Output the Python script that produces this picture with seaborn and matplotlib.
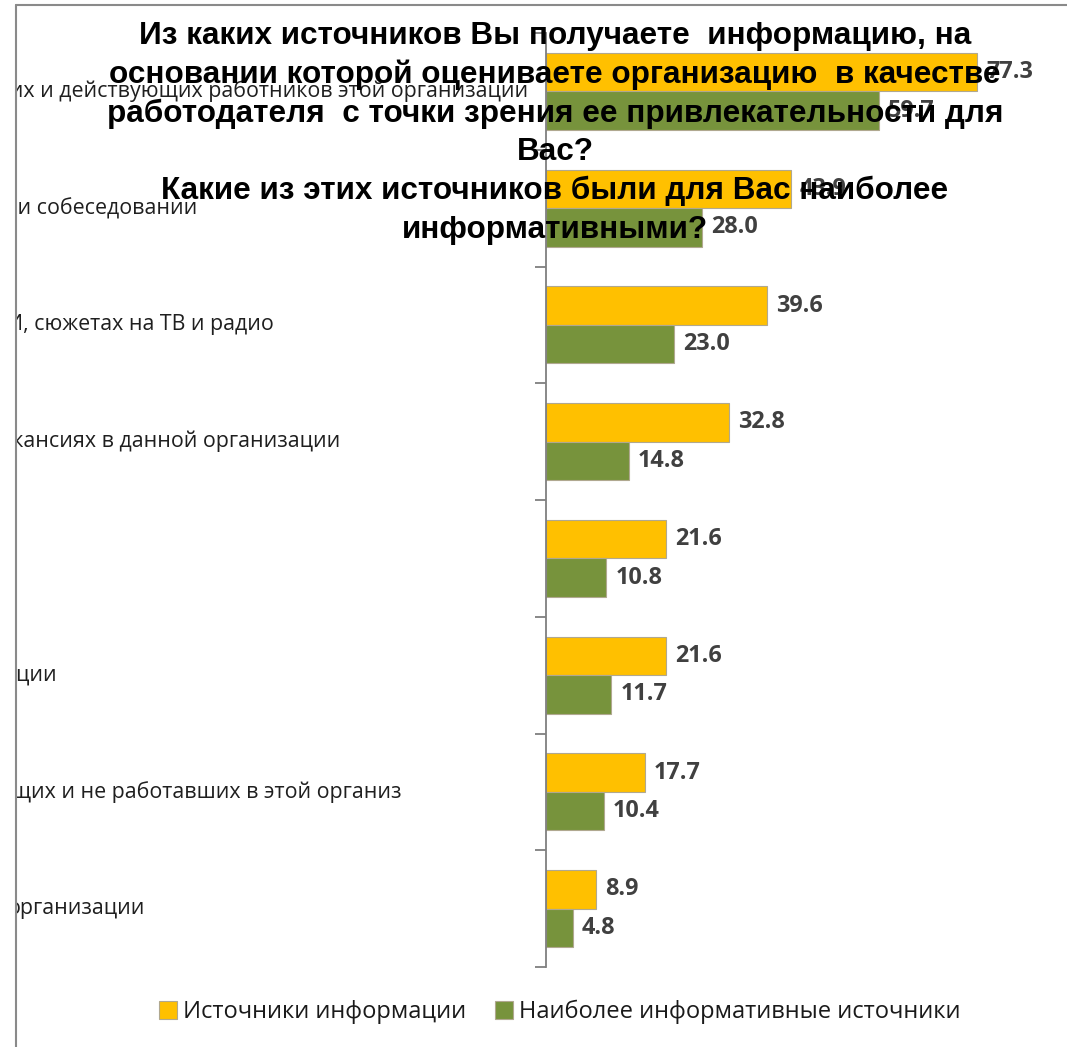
import matplotlib
matplotlib.use("Agg")
import matplotlib.pyplot as plt
import pandas as pd
import seaborn as sns
from matplotlib.lines import Line2D
from matplotlib.patches import Rectangle
from matplotlib.transforms import blended_transform_factory

# --- data -------------------------------------------------------------
category_ids = ["c1", "c2", "c3", "c4", "c5", "c6", "c7", "c8"]
category_labels = [
    "бывших и действующих работников этой организации",
    "при собеседовании",
    "СМИ, сюжетах на ТВ и радио",
    "вакансиях в данной организации",
    "",
    "изации",
    "ающих и не работавших в этой организ",
    "организации",
]
series_names = ["Источники информации", "Наиболее информативные источники"]
sources_info = [77.3, 43.9, 39.6, 32.8, 21.6, 21.6, 17.7, 8.9]
most_informative = [59.7, 28.0, 23.0, 14.8, 10.8, 11.7, 10.4, 4.8]

title_lines = [
    "Из каких источников Вы получаете  информацию, на",
    "основании которой оцениваете организацию  в качестве",
    "работодателя  с точки зрения ее привлекательности для",
    "Вас?",
    "Какие из этих источников были для Вас наиболее",
    "информативными?",
]

# --- styling ----------------------------------------------------------
W, H, DPI = 1067, 1047, 100
colors = ["#FFC000", "#77933C"]
label_right_px = [528, 197, 274, 340, 0, 57, 401, 145]   # right edge of each category label
frame_x_px, frame_y_px = 16, 5

sns.set_style("white")
plt.rcParams["font.family"] = ["Open Sans", "DejaVu Sans"]

df = pd.DataFrame({
    "cat": category_ids * 2,
    "value": sources_info + most_informative,
    "series": [series_names[0]] * 8 + [series_names[1]] * 8,
})

fig = plt.figure(figsize=(W / DPI, H / DPI), dpi=DPI)
ax_left = 546 / W
ax_top = 1 - 33 / H
ax_bottom = 1 - 967 / H
ax = fig.add_axes([ax_left, ax_bottom, 502 / W, ax_top - ax_bottom])

sns.barplot(data=df, x="value", y="cat", hue="series", orient="h",
            palette=colors, width=0.66, ax=ax, saturation=1,
            edgecolor="#b0a890", linewidth=0.8, legend=True)

ax.set_xlim(0, 90)
ax.set_ylim(7.5, -0.5)
ax.set_xlabel("")
ax.set_ylabel("")
ax.xaxis.set_visible(False)
for side in ["top", "right", "bottom"]:
    ax.spines[side].set_visible(False)
ax.spines["left"].set_color("#7f7f7f")
ax.spines["left"].set_linewidth(1.3)
ax.set_yticks([i - 0.5 for i in range(9)])
ax.set_yticklabels([])
ax.tick_params(axis="y", left=True, direction="out", length=8, width=1.3,
               color="#7f7f7f", labelleft=False)

# value labels next to the bars
for cont, vals in zip(ax.containers, [sources_info, most_informative]):
    ax.bar_label(cont, labels=[f"{v:.1f}" for v in vals], padding=6.5,
                 fontsize=16.8, fontweight="bold", color="#404040")

# legend at the bottom
handles, labels = ax.get_legend_handles_labels()
ax.get_legend().remove()
fig.legend(handles, labels, loc="center", bbox_to_anchor=(560 / W, 1 - 1012 / H),
           ncol=2, frameon=False, handlelength=0.76, handleheight=0.8,
           handletextpad=0.25, columnspacing=1.23, prop={"size": 17},
           labelcolor="#1a1a1a")

# category labels (left part runs past the frame edge)
trans = blended_transform_factory(fig.transFigure, ax.transData)
for i, (txt, xr) in enumerate(zip(category_labels, label_right_px)):
    if not txt:
        continue
    fig.text(xr / W, i, txt, transform=trans, ha="right", va="center",
             fontsize=15.4, color="#1f1f1f", zorder=3)

# blank margin left of the frame
fig.add_artist(Rectangle((0, 0), frame_x_px / W, 1, transform=fig.transFigure,
                         facecolor="white", edgecolor="none", zorder=5))

# frame lines
fig.add_artist(Line2D([frame_x_px / W, 1], [1 - frame_y_px / H] * 2,
                      transform=fig.transFigure, color="#8a8a8a", lw=1.5, zorder=6))
fig.add_artist(Line2D([frame_x_px / W] * 2, [0, 1 - frame_y_px / H],
                      transform=fig.transFigure, color="#8a8a8a", lw=1.5, zorder=6))

# title drawn over the bars
base0, step = 44, 38.8
for k, line in enumerate(title_lines):
    fig.text(555 / W, 1 - (base0 + k * step) / H, line, ha="center", va="baseline",
             fontsize=22.7, fontweight="bold", family="Liberation Sans",
             color="black", zorder=10)

fig.savefig("out.png", dpi=DPI)
